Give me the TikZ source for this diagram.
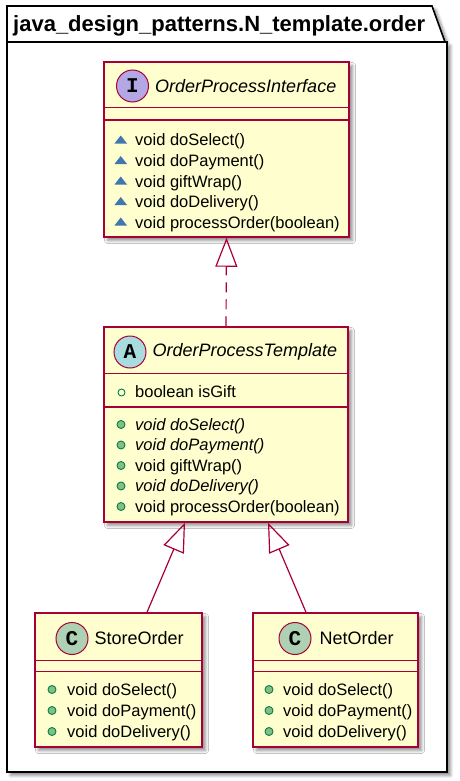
\documentclass[tikz,border=0pt]{standalone}
\usepackage{fontspec}
\setmainfont{Liberation Sans}
\newfontfamily\spotfont{Liberation Mono}
\usetikzlibrary{arrows.meta, positioning, shadows.blur}
\definecolor{umlBorder}{HTML}{A80036}
\definecolor{umlFill}{HTML}{FEFECE}
\definecolor{ifaceSpot}{HTML}{B4A7E5}
\definecolor{abstractSpot}{HTML}{A9DCDF}
\definecolor{classSpot}{HTML}{ADD1B2}
\definecolor{pubGreen}{HTML}{84BE84}
\definecolor{pubDark}{HTML}{038048}
\definecolor{pkgBlue}{HTML}{4177AF}

\begin{document}
\begin{tikzpicture}[
    x=1pt, y=-1pt,
    shady/.style={blur shadow={shadow xshift=3.5pt, shadow yshift=-3.5pt,
                  shadow blur radius=3pt, shadow blur steps=6, shadow opacity=45}},
    pkgline/.style={draw=black, line width=1.6pt},
    pkgtitle/.style={anchor=base west, inner sep=0pt,
                     font=\bfseries\fontsize{22}{26}\selectfont},
    classbox/.style={draw=umlBorder, fill=umlFill, line width=1.5pt,
                     inner sep=0pt, shady},
    sep/.style={draw=umlBorder, line width=1.5pt},
    spot/.style={circle, draw=umlBorder, line width=1pt, minimum size=32pt,
                 inner sep=0pt, font=\spotfont\bfseries\fontsize{21}{21}\selectfont},
    classname/.style={inner sep=0pt, font=\fontsize{18}{22}\selectfont},
    member/.style={anchor=base west, inner sep=0pt,
                   font=\fontsize{16.5}{20}\selectfont},
    pubdot/.style={circle, draw=pubDark, fill=pubGreen, line width=0.9pt,
                   minimum size=8pt, inner sep=0pt},
    pubring/.style={circle, draw=pubDark, line width=0.9pt,
                    minimum size=7pt, inner sep=0pt},
    pkgtri/.style={fill=pkgBlue},
    implements/.style={draw=umlBorder, line width=1.2pt, dash pattern=on 10pt off 7pt,
                       -{Triangle[open, length=29pt, width=22pt]}},
    extends/.style={draw=umlBorder, line width=1.2pt,
                    -{Triangle[open, length=29pt, width=22pt]}},
  ]
    \useasboundingbox (0,0) rectangle (460,781);

    % package frame
    \draw[pkgline, fill=white, shady] (7,42) -- (7,6) -- (432,6) -- (445,42)
      -- (447,42) -- (447,772) -- (7,772) -- cycle;
    \draw[pkgline] (7,42) -- (445,42);
    \node[pkgtitle] (pkgname) at (13,32) {java\_design\_patterns.N\_template.order};

    % interface
    \node[classbox, minimum width=245pt, minimum height=175pt] (iface) at (226.5,149.5) {};
    \draw[sep] ([yshift=-46.3pt]iface.north west) -- ([yshift=-46.3pt]iface.north east);
    \draw[sep] ([yshift=-58.7pt]iface.north west) -- ([yshift=-58.7pt]iface.north east);
    \node[spot, fill=ifaceSpot] (ifacespot) at (132.5,86) {I};
    \node[classname, right=6pt of ifacespot] (ifacename) {\itshape OrderProcessInterface};
    \foreach \txt [count=\k] in {void doSelect(), void doPayment(), void giftWrap(),
                                 void doDelivery(), void processOrder(boolean)}
      \node[member] (if\k) at (135, 125.5+20.5*\k) {\txt};
    \foreach \k in {1,...,5}
      \fill[pkgtri] ([xshift=-20.5pt, yshift=2.5pt]if\k.base west) -- ++(12.5,0) -- ++(-6.25,-8) -- cycle;

    % abstract template
    \node[classbox, minimum width=244pt, minimum height=195pt] (tmpl) at (226,424.5) {};
    \draw[sep] ([yshift=-47.3pt]tmpl.north west) -- ([yshift=-47.3pt]tmpl.north east);
    \draw[sep] ([yshift=-80.7pt]tmpl.north west) -- ([yshift=-80.7pt]tmpl.north east);
    \node[spot, fill=abstractSpot] (tmplspot) at (130,352) {A};
    \node[classname, right=6pt of tmplspot] (tmplname) {\itshape OrderProcessTemplate};
    \node[member] (tfield) at (135,397) {boolean isGift};
    \node[pubring] (tfielddot) at ([xshift=-13.5pt, yshift=4.5pt]tfield.base west) {};
    \foreach \txt [count=\k] in {\textit{void doSelect()}, \textit{void doPayment()},
                                 void giftWrap(), \textit{void doDelivery()},
                                 void processOrder(boolean)}
      \node[member] (tm\k) at (135, 409.5+20.5*\k) {\txt};
    \foreach \k in {1,...,5}
      \node[pubdot] (tmdot\k) at ([xshift=-14pt, yshift=5.5pt]tm\k.base west) {};

    % concrete classes
    \node[classbox, minimum width=167pt, minimum height=134pt] (store) at (118.5,680) {};
    \draw[sep] ([yshift=-48pt]store.north west) -- ([yshift=-48pt]store.north east);
    \draw[sep] ([yshift=-59.3pt]store.north west) -- ([yshift=-59.3pt]store.north east);
    \node[spot, fill=classSpot] (storespot) at (72,638.5) {C};
    \node[classname, right=6pt of storespot] (storename) {StoreOrder};
    \foreach \txt [count=\k] in {void doSelect(), void doPayment(), void doDelivery()}
      \node[member] (sm\k) at (67, 674+21*\k) {\txt};
    \foreach \k in {1,...,3}
      \node[pubdot] (smdot\k) at ([xshift=-15pt, yshift=5.5pt]sm\k.base west) {};

    \node[classbox, minimum width=165pt, minimum height=134pt] (net) at (335.5,680) {};
    \draw[sep] ([yshift=-48pt]net.north west) -- ([yshift=-48pt]net.north east);
    \draw[sep] ([yshift=-59.3pt]net.north west) -- ([yshift=-59.3pt]net.north east);
    \node[spot, fill=classSpot] (netspot) at (295,638.5) {C};
    \node[classname, right=8pt of netspot] (netname) {NetOrder};
    \foreach \txt [count=\k] in {void doSelect(), void doPayment(), void doDelivery()}
      \node[member] (nm\k) at (283, 674+21*\k) {\txt};
    \foreach \k in {1,...,3}
      \node[pubdot] (nmdot\k) at ([xshift=-14pt, yshift=5.5pt]nm\k.base west) {};

    % relations
    \draw[implements] (tmpl.north) -- (iface.south);
    \draw[extends] ([xshift=28.5pt]store.north) -- ([xshift=-41pt]tmpl.south);
    \draw[extends] ([xshift=-29.5pt]net.north) -- ([xshift=42pt]tmpl.south);
  \end{tikzpicture}
\end{document}
